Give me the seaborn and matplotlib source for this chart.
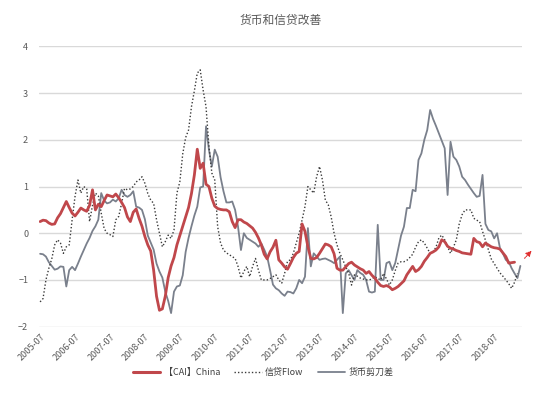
import numpy as np
import pandas as pd
import seaborn as sns
import matplotlib
matplotlib.use("Agg")
import matplotlib.pyplot as plt
from matplotlib.lines import Line2D

# 月度数据, 从 2005-07 开始
start = "2005-07"

cai_china = [
    0.25, 0.28, 0.27, 0.22, 0.19, 0.20, 0.33, 0.42, 0.55, 0.68,
    0.55, 0.43, 0.37, 0.45, 0.54, 0.50, 0.47, 0.60, 0.93, 0.50,
    0.62, 0.57, 0.70, 0.82, 0.80, 0.78, 0.84, 0.76, 0.66, 0.55,
    0.35, 0.25, 0.45, 0.52, 0.32, 0.15, -0.07, -0.25, -0.38, -0.79,
    -1.35, -1.65, -1.62, -1.35, -0.95, -0.70, -0.52, -0.25, -0.05, 0.15,
    0.35, 0.55, 0.85, 1.25, 1.80, 1.39, 1.50, 1.05, 1.00, 0.75,
    0.58, 0.53, 0.51, 0.50, 0.50, 0.46, 0.25, 0.12, 0.29, 0.29,
    0.24, 0.21, 0.16, 0.11, 0.02, -0.10, -0.25, -0.45, -0.55, -0.40,
    -0.30, -0.15, -0.57, -0.64, -0.72, -0.77, -0.65, -0.52, -0.43, -0.39,
    0.20, 0.04, -0.29, -0.54, -0.55, -0.52, -0.43, -0.33, -0.23, -0.25,
    -0.29, -0.44, -0.75, -0.79, -0.79, -0.72, -0.65, -0.62, -0.68, -0.72,
    -0.76, -0.79, -0.86, -0.82, -0.90, -0.96, -1.05, -1.12, -1.14, -1.12,
    -1.15, -1.21, -1.18, -1.14, -1.08, -1.02, -0.89, -0.80, -0.71, -0.82,
    -0.78, -0.71, -0.60, -0.52, -0.43, -0.40, -0.36, -0.29, -0.14, -0.18,
    -0.28, -0.32, -0.34, -0.37, -0.39, -0.42, -0.43, -0.44, -0.45, -0.11,
    -0.18, -0.20, -0.29, -0.21, -0.25, -0.29, -0.31, -0.32, -0.34, -0.42,
    -0.50, -0.64, -0.63, -0.62,
]

credit_flow = [
    -1.47, -1.40, -1.00, -0.75, -0.55, -0.25, -0.14, -0.21, -0.43, -0.29,
    -0.25, 0.29, 0.79, 1.14, 0.86, 1.00, 0.95, 0.25, 0.60, 0.86,
    0.80, 0.43, 0.10, 0.00, -0.03, -0.07, 0.29, 0.36, 0.64, 0.96,
    0.93, 0.95, 1.00, 1.10, 1.14, 1.21, 1.07, 0.85, 0.71, 0.64,
    0.29, 0.00, -0.29, -0.18, -0.04, -0.11, 0.07, 0.86, 1.10, 1.70,
    2.05, 2.21, 2.71, 3.05, 3.43, 3.50, 3.07, 2.71, 1.86, 1.29,
    1.14, 0.14, -0.21, -0.36, -0.42, -0.46, -0.50, -0.54, -0.71, -0.96,
    -0.82, -0.71, -0.93, -0.71, -0.54, -0.79, -1.00, -1.00, -1.00, -0.97,
    -0.93, -0.89, -1.00, -1.07, -0.86, -0.60, -0.57, -0.43, -0.21, 0.00,
    0.29, 0.57, 1.00, 0.93, 0.86, 1.21, 1.43, 1.14, 0.71, 0.61,
    0.35, 0.00, -0.25, -0.43, -0.57, -0.72, -0.85, -1.11, -0.89, -0.92,
    -0.96, -0.98, -1.00, -1.00, -0.98, -0.93, -0.97, -1.00, -0.86, -0.98,
    -1.11, -1.00, -0.80, -0.64, -0.61, -0.61, -0.58, -0.52, -0.45, -0.30,
    -0.18, -0.14, -0.21, -0.32, -0.43, -0.40, -0.30, -0.10, -0.04, -0.14,
    -0.29, -0.43, -0.30, -0.14, 0.20, 0.40, 0.50, 0.50, 0.50, 0.32,
    0.28, 0.25, 0.04, -0.15, -0.35, -0.55, -0.65, -0.75, -0.85, -0.92,
    -1.00, -1.08, -1.18, -1.05, -0.86,
]

money_gap = [
    -0.44, -0.45, -0.50, -0.62, -0.70, -0.78, -0.76, -0.71, -0.72, -1.14,
    -0.79, -0.72, -0.79, -0.65, -0.50, -0.36, -0.22, -0.10, 0.05, 0.15,
    0.29, 0.86, 0.70, 0.64, 0.66, 0.72, 0.68, 0.75, 0.93, 0.82,
    0.78, 0.82, 0.90, 0.57, 0.55, 0.50, 0.30, -0.05, -0.20, -0.35,
    -0.65, -0.82, -0.95, -1.25, -1.45, -1.71, -1.25, -1.14, -1.12, -0.90,
    -0.40, -0.10, 0.15, 0.38, 0.57, 0.98, 1.00, 2.29, 1.79, 1.43,
    1.79, 1.64, 1.20, 0.90, 0.66, 0.66, 0.68, 0.50, 0.14, -0.36,
    0.00, -0.10, -0.14, -0.18, -0.22, -0.29, -0.22, -0.35, -0.50, -0.79,
    -1.10, -1.18, -1.22, -1.29, -1.34, -1.25, -1.26, -1.29, -1.18, -1.00,
    -1.07, -0.93, 0.11, -0.71, -0.43, -0.50, -0.57, -0.55, -0.54, -0.57,
    -0.60, -0.64, -0.57, -0.50, -1.71, -0.86, -0.79, -0.90, -1.00, -0.79,
    -0.85, -0.89, -1.00, -1.25, -1.27, -1.25, 0.18, -1.00, -1.00, -0.64,
    -0.61, -0.79, -0.64, -0.35, -0.05, 0.14, 0.54, 0.54, 0.93, 0.90,
    1.57, 1.71, 2.00, 2.21, 2.64, 2.45, 2.30, 2.14, 1.98, 1.82,
    0.82, 1.96, 1.64, 1.57, 1.43, 1.21, 1.14, 1.04, 0.95, 0.86,
    0.78, 0.80, 1.25, 0.20, 0.07, 0.04, -0.11, 0.00, -0.32, -0.43,
    -0.57, -0.61, -0.75, -0.86, -0.96, -0.70,
]

tick_labels = ["2005-07", "2006-07", "2007-07", "2008-07", "2009-07", "2010-07", "2011-07",
               "2012-07", "2013-07", "2014-07", "2015-07", "2016-07", "2017-07", "2018-07"]

names = ["【CAI】China", "信贷Flow", "货币剪刀差"]
colors = ["#c0474b", "#3a3a3a", "#7a808c"]

n = len(money_gap)
months = pd.period_range(start, periods=n, freq="M").strftime("%Y-%m")
df = pd.DataFrame({"idx": np.arange(n), "month": months})
df[names[0]] = pd.Series(cai_china)
df[names[1]] = pd.Series(credit_flow)
df[names[2]] = pd.Series(money_gap)

sns.set_style("white")
plt.rcParams["font.family"] = ["Noto Sans CJK SC", "DejaVu Sans"]

fig = plt.figure(figsize=(5.45, 3.94), dpi=100)
ax = fig.add_axes([0.072, 0.171, 0.886, 0.711])

sns.lineplot(data=df, x="idx", y=names[2], ax=ax, color=colors[2], linewidth=1.3)
sns.lineplot(data=df, x="idx", y=names[1], ax=ax, color=colors[1], linewidth=1.0, linestyle=(0, (1, 1.5)))
sns.lineplot(data=df, x="idx", y=names[0], ax=ax, color=colors[0], linewidth=2.0)

ax.set_xlim(-0.3, 165.6)
ax.set_ylim(-2, 4)
ax.set_yticks(range(-2, 5))
ax.yaxis.grid(True, color="#d9d9d9", linewidth=1)
ax.xaxis.grid(False)
for s in ax.spines.values():
    s.set_visible(False)

ax.set_xticks(np.arange(0, 157, 12))
ax.set_xticklabels(tick_labels, rotation=45, ha="right", rotation_mode="anchor")
ax.tick_params(axis="both", length=0, labelsize=6.5, colors="#595959")
ax.tick_params(axis="x", pad=4)
ax.tick_params(axis="y", pad=8)
ax.set_xlabel("")
ax.set_ylabel("")

ax.set_title("货币和信贷改善", fontsize=8.5, color="#595959", pad=16)

# 红色虚线箭头
ax.annotate("", xy=(169.5, -0.33), xytext=(165.8, -0.58),
            arrowprops=dict(arrowstyle="-|>", color="#e03030", linestyle=(0, (1, 1)),
                            lw=0.8, mutation_scale=8),
            annotation_clip=False)

handles = [Line2D([], [], color=colors[0], linewidth=2.2),
           Line2D([], [], color=colors[1], linewidth=1.0, linestyle=(0, (1, 1.5))),
           Line2D([], [], color=colors[2], linewidth=1.3)]
fig.legend(handles, names, loc="center", bbox_to_anchor=(0.483, 0.055), ncol=3,
           frameon=False, fontsize=6.5, handlelength=3.0, handletextpad=0.4,
           columnspacing=1.6, labelcolor="#404040")

fig.savefig("out.png", dpi=100)
